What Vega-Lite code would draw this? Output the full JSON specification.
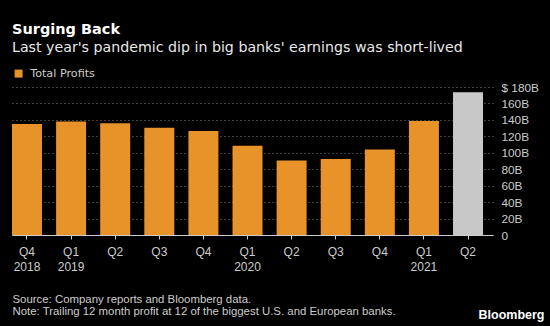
{
  "$schema": "https://vega.github.io/schema/vega-lite/v6.json",
  "width": 481,
  "height": 148,
  "autosize": {"type": "none"},
  "padding": {"left": 12, "top": 87, "right": 57, "bottom": 91},
  "background": "#000000",
  "title": {
    "text": "Surging Back",
    "subtitle": "Last year's pandemic dip in big banks' earnings was short-lived",
    "anchor": "start",
    "color": "#ffffff",
    "subtitleColor": "#e8e8e8",
    "font": "DejaVu Sans",
    "fontSize": 14.5,
    "fontWeight": "bold",
    "subtitleFont": "DejaVu Sans",
    "subtitleFontSize": 14.2,
    "subtitlePadding": 3,
    "offset": 12
  },
  "config": {
    "view": {"stroke": null},
    "font": "Liberation Sans"
  },
  "data": {
    "values": [
      {"period": "Q4 2018", "profit": 135, "series": "Total Profits"},
      {"period": "Q1 2019", "profit": 138, "series": "Total Profits"},
      {"period": "Q2 2019", "profit": 136, "series": "Total Profits"},
      {"period": "Q3 2019", "profit": 130.5, "series": "Total Profits"},
      {"period": "Q4 2019", "profit": 126.5, "series": "Total Profits"},
      {"period": "Q1 2020", "profit": 108.6, "series": "Total Profits"},
      {"period": "Q2 2020", "profit": 90.5, "series": "Total Profits"},
      {"period": "Q3 2020", "profit": 92.5, "series": "Total Profits"},
      {"period": "Q4 2020", "profit": 104, "series": "Total Profits"},
      {"period": "Q1 2021", "profit": 138.7, "series": "Total Profits"},
      {"period": "Q2 2021", "profit": 173.6, "series": "Q2 2021"}
    ]
  },
  "mark": {"type": "bar"},
  "encoding": {
    "x": {
      "field": "period",
      "type": "nominal",
      "sort": null,
      "scale": {"paddingInner": 0.32, "paddingOuter": 0.113, "align": 0},
      "axis": {
        "labelAngle": 0,
        "labelExpr": "indexof(datum.value, 'Q1') == 0 || datum.value == 'Q4 2018' ? split(datum.value, ' ') : split(datum.value, ' ')[0]",
        "labelColor": "#cccccc",
        "labelFontSize": 12,
        "labelLineHeight": 15,
        "labelPadding": 7,
        "tickColor": "#cccccc",
        "tickSize": 4,
        "domainColor": "#cccccc",
        "grid": false,
        "title": ["Source: Company reports and Bloomberg data.", "Note: Trailing 12 month profit at 12 of the biggest U.S. and European banks."],
        "titleX": 0,
        "titleY": 58,
        "titleAlign": "left",
        "titleAnchor": "start",
        "titleBaseline": "top",
        "titleLineHeight": 12.5,
        "titleFont": "Liberation Sans",
        "titleFontSize": 11.4,
        "titleFontWeight": "normal",
        "titleColor": "#cccccc"
      }
    },
    "y": {
      "field": "profit",
      "type": "quantitative",
      "scale": {"domain": [0, 180], "nice": false},
      "axis": {
        "orient": "right",
        "values": [0, 20, 40, 60, 80, 100, 120, 140, 160, 180],
        "labelExpr": "datum.value == 180 ? '$ 180B' : datum.value == 0 ? '0' : datum.value + 'B'",
        "labelColor": "#cccccc",
        "labelFontSize": 11.8,
        "labelPadding": 8,
        "ticks": false,
        "domain": false,
        "grid": true,
        "gridColor": "#808080",
        "gridDash": [1, 3],
        "gridWidth": 1,
        "title": "Bloomberg",
        "titleAngle": 0,
        "titleX": -15,
        "titleY": 231,
        "titleAlign": "left",
        "titleBaseline": "alphabetic",
        "titleColor": "#ffffff",
        "titleFontWeight": "bold",
        "titleFontSize": 12.5
      }
    },
    "color": {
      "field": "series",
      "type": "nominal",
      "scale": {"domain": ["Total Profits", "Q2 2021"], "range": ["#E8922A", "#C8C8C8"]},
      "legend": {
        "values": ["Total Profits"],
        "title": null,
        "orient": "none",
        "legendX": 1,
        "legendY": -19,
        "symbolType": "square",
        "symbolSize": 64,
        "symbolStrokeWidth": 0,
        "labelColor": "#cccccc",
        "labelFont": "DejaVu Sans",
        "labelFontSize": 11.2,
        "labelOffset": 6
      }
    }
  }
}
